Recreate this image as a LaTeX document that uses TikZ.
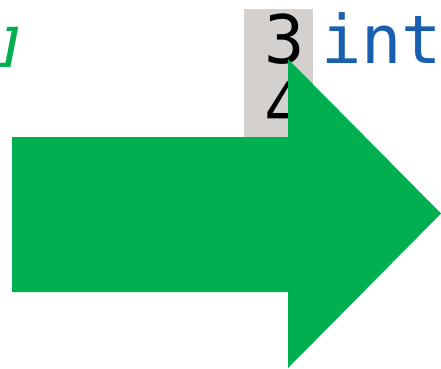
\documentclass[tikz,border=0pt]{standalone}
\usepackage{fontspec}
\newfontfamily\codefont{DejaVu Sans Mono}
\newfontfamily\codefontit{DejaVu Sans Mono Bold Oblique}
\definecolor{arrowgreen}{RGB}{0,176,80}
\definecolor{gutter}{RGB}{212,208,205}
\definecolor{kwblue}{RGB}{25,95,175}
\tikzset{
  codetext/.style={inner sep=0pt, outer sep=0pt, font=\codefont\fontsize{67}{67}\selectfont},
  linenum/.style={codetext, text=black, anchor=base},
  keyword/.style={codetext, text=kwblue, anchor=base west},
  comment/.style={inner sep=0pt, outer sep=0pt, text=arrowgreen, anchor=base east, font=\codefontit\fontsize{45}{45}\selectfont},
  bigarrow/.style={fill=arrowgreen, draw=none}
}
\begin{document}
\begin{tikzpicture}[x=1pt,y=-1pt]
\useasboundingbox (0,0) rectangle (441,368);
\clip (0,0) rectangle (441,368);
\fill[gutter] (244,9) rectangle (313,200);
\node[linenum] (n3) at (285,63) {3};
\node[linenum] (n4) at (285,130) {4};
\node[keyword] (kw) at (321,63) {int};
\node[comment] (br) at (25,61) {]};
\path[bigarrow] (12,137) -- (288,137) -- (288,59) -- (441,213.5) -- (288,368) -- (288,292) -- (12,292) -- cycle;
\end{tikzpicture}
\end{document}
